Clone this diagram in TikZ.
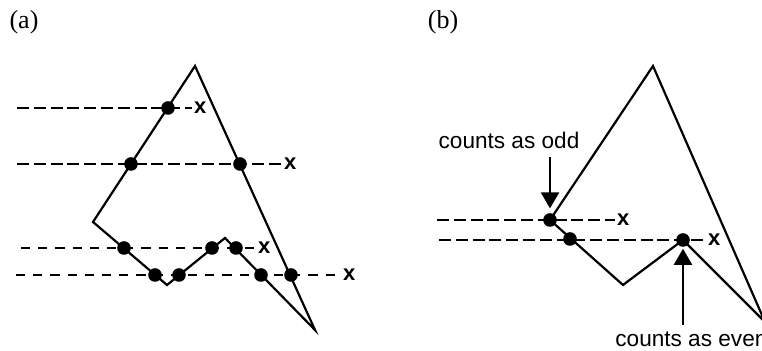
\documentclass[tikz,border=0pt]{standalone}
\usepackage{fontspec}
\setmainfont{Liberation Sans}
\newfontfamily\labelserif{Liberation Serif}
\usetikzlibrary{arrows.meta}

\begin{document}
\begin{tikzpicture}[x=0.5pt, y=-0.5pt,
			edge/.style = {line width=1.1pt, line join=miter},
			ray/.style = {line width=1.1pt, dash pattern=on 6pt off 2.4pt},
			ray short/.style = {line width=1.1pt, dash pattern=on 4.6pt off 4pt},
			crossing/.style = {circle, fill=black, inner sep=0pt, minimum size=6.8pt},
			xlab/.style = {font=\bfseries\fontsize{11}{11}\selectfont, inner sep=0.8pt, anchor=west},
			note/.style = {font=\fontsize{11.3}{12}\selectfont, inner sep=0pt},
			pointer/.style = {line width=1.1pt, -{Triangle[width=9pt, length=8pt]}}]

			\useasboundingbox (0, 0) rectangle (762, 351);
			\clip (0, 0) rectangle (762, 351);

			% panel labels
			\node [font=\labelserif\fontsize{13}{13}\selectfont] (la) at (24, 22) {(a)};
			\node [font=\labelserif\fontsize{13}{13}\selectfont] (lb) at (443, 22) {(b)};

			% ---------------- panel (a) ----------------
			\coordinate (a1) at (195, 66);
			\coordinate (a2) at (93, 222);
			\coordinate (a3) at (167, 285);
			\coordinate (a4) at (225, 238);
			\coordinate (a5) at (315, 330);
			\draw [edge] (a1) -- (a2) -- (a3) -- (a4) -- (a5) -- cycle;

			% test rays
			\coordinate (ra1) at (17, 108);
			\coordinate (ra2) at (17, 164);
			\coordinate (ra3) at (21, 248);
			\coordinate (ra4) at (16, 275);
			\node [xlab] (xa1) at (192, 108) {x};
			\node [xlab] (xa2) at (282, 164) {x};
			\node [xlab] (xa3) at (256, 248) {x};
			\node [xlab] (xa4) at (341, 275) {x};
			\draw [ray] (ra1) -- (xa1.west);
			\draw [ray] (ra2) -- (xa2.west);
			\draw [ray short] (ra3) -- (xa3.west);
			\draw [ray short] (ra4) -- (xa4.west);

			% crossings
			\node [crossing] (ca11) at (168, 108) {};
			\node [crossing] (ca21) at (131, 164) {};
			\node [crossing] (ca22) at (240, 164) {};
			\node [crossing] (ca31) at (124, 248) {};
			\node [crossing] (ca32) at (212, 248) {};
			\node [crossing] (ca33) at (236, 248) {};
			\node [crossing] (ca41) at (155, 275) {};
			\node [crossing] (ca42) at (179, 275) {};
			\node [crossing] (ca43) at (261, 275) {};
			\node [crossing] (ca44) at (291, 275) {};

			% ---------------- panel (b) ----------------
			\coordinate (b1) at (653, 66);
			\coordinate (b2) at (550, 220);
			\coordinate (b3) at (623, 285);
			\coordinate (b4) at (683, 240);
			\coordinate (b5) at (765, 322);
			\draw [edge] (b1) -- (b2) -- (b3) -- (b4) -- (b5) -- cycle;

			% test rays
			\coordinate (rb1) at (437, 220);
			\coordinate (rb2) at (439, 240);
			\node [xlab] (xb1) at (615, 220) {x};
			\node [xlab] (xb2) at (706, 240) {x};
			\draw [ray] (rb1) -- (xb1.west);
			\draw [ray] (rb2) -- (xb2.west);

			% crossings
			\node [crossing] (cb1) at (550, 220) {};
			\node [crossing] (cb2) at (570, 239) {};
			\node [crossing] (cb3) at (683, 240) {};

			% annotations
			\node [note] (odd) at (509, 140) {counts as odd};
			\coordinate (odd0) at (550, 157);
			\draw [pointer, shorten >=2.2pt] (odd0) -- (cb1);

			\node [note, anchor=base west] (even) at (615, 347) {counts as even};
			\coordinate (even0) at (683, 325);
			\draw [pointer, shorten >=0.8pt] (even0) -- (cb3);
		\end{tikzpicture}
\end{document}
